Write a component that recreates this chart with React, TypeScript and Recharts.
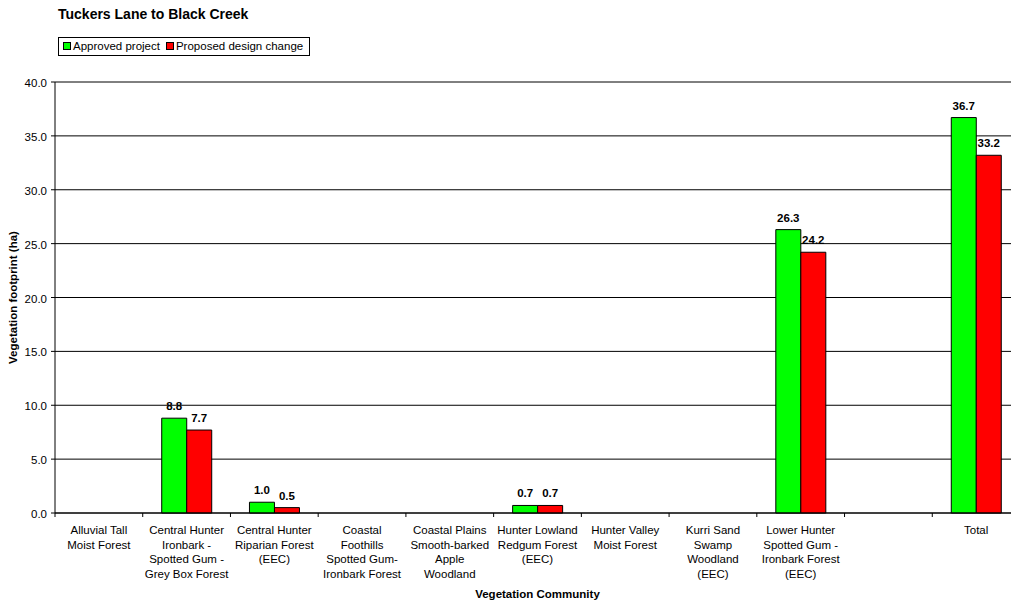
import React from 'react';
import { BarChart, Bar, XAxis, YAxis, CartesianGrid, Legend, LabelList } from 'recharts';

// Vegetation communities (line breaks mark how each axis label wraps)
const categories: string[] = [
  'Alluvial Tall\nMoist Forest',
  'Central Hunter\nIronbark -\nSpotted Gum -\nGrey Box Forest',
  'Central Hunter\nRiparian Forest\n(EEC)',
  'Coastal\nFoothills\nSpotted Gum-\nIronbark Forest',
  'Coastal Plains\nSmooth-barked\nApple\nWoodland',
  'Hunter Lowland\nRedgum Forest\n(EEC)',
  'Hunter Valley\nMoist Forest',
  'Kurri Sand\nSwamp\nWoodland\n(EEC)',
  'Lower Hunter\nSpotted Gum -\nIronbark Forest\n(EEC)',
  ' ',
  'Total',
];

// Vegetation footprint (ha); null where a community is not affected
const approvedProject: (number | null)[] = [null, 8.8, 1.0, null, null, 0.7, null, null, 26.3, null, 36.7];
const proposedDesignChange: (number | null)[] = [null, 7.7, 0.5, null, null, 0.7, null, null, 24.2, null, 33.2];

const yTicks: number[] = [0, 5, 10, 15, 20, 25, 30, 35, 40];

const data = categories.map((name, i) => ({
  name,
  approved: approvedProject[i],
  proposed: proposedDesignChange[i],
}));

const FONT = '"Liberation Sans", Arial, Helvetica, sans-serif';
const CHART_W = 1030;
const CHART_H = 604;
const MARGIN = { top: 82, right: 10, bottom: 31, left: 0 };
const Y_AXIS_W = 55;
const X_AXIS_H = 60;
const PLOT_W = CHART_W - MARGIN.left - MARGIN.right - Y_AXIS_W;
const HALF_BAND = PLOT_W / categories.length / 2;

const CategoryTick = (props: any) => {
  const { x, y, payload, index } = props;
  const lines = String(payload.value).split('\n');
  const isLast = index === categories.length - 1;
  return (
    <g>
      <line x1={x - HALF_BAND} y1={y - 4} x2={x - HALF_BAND} y2={y} stroke="#000" />
      {isLast && <line x1={x + HALF_BAND} y1={y - 4} x2={x + HALF_BAND} y2={y} stroke="#000" />}
      <text x={x} y={y + 17.3} textAnchor="middle" fontFamily={FONT} fontSize={11.5} fill="#000">
        {lines.map((l, i) => (
          <tspan key={i} x={x} dy={i === 0 ? 0 : 14.4}>
            {l}
          </tspan>
        ))}
      </text>
    </g>
  );
};

const ValueLabel = (props: any) => {
  const { x, y, width, value } = props;
  if (value === null || value === undefined) return null;
  return (
    <text
      x={Number(x) + Number(width) / 2}
      y={Number(y) - 8}
      textAnchor="middle"
      fontFamily={FONT}
      fontSize={11.5}
      fontWeight="bold"
      fill="#000"
    >
      {Number(value).toFixed(1)}
    </text>
  );
};

const LegendBox = (props: any) => {
  const { payload } = props;
  return (
    <div
      style={{
        display: 'inline-flex',
        alignItems: 'center',
        border: '1px solid #000',
        height: 17,
        lineHeight: '17px',
        padding: '0 6px 0 4px',
        fontFamily: FONT,
        fontSize: 11.5,
        color: '#000',
        background: '#fff',
        whiteSpace: 'nowrap',
      }}
    >
      {(payload || []).map((entry: any, i: number) => (
        <span key={i} style={{ display: 'inline-flex', alignItems: 'center', marginLeft: i === 0 ? 0 : 6 }}>
          <span
            style={{
              display: 'inline-block',
              width: 6,
              height: 6,
              border: '1px solid #000',
              background: entry.color,
              marginRight: 2,
            }}
          />
          {entry.value}
        </span>
      ))}
    </div>
  );
};

const YTitle = (props: any) => {
  const vb = props.viewBox || {};
  const cy = vb.y + vb.height / 2;
  return (
    <text
      x={13}
      y={cy}
      transform={`rotate(-90, 13, ${cy})`}
      textAnchor="middle"
      dominantBaseline="central"
      fontFamily={FONT}
      fontSize={11.5}
      fontWeight="bold"
      fill="#000"
    >
      Vegetation footprint (ha)
    </text>
  );
};

const XTitle = (props: any) => {
  const vb = props.viewBox || {};
  const cx = vb.x + vb.width / 2;
  return (
    <text x={cx} y={598} textAnchor="middle" fontFamily={FONT} fontSize={11.5} fontWeight="bold" fill="#000">
      Vegetation Community
    </text>
  );
};

export default function App() {
  return (
    <div
      style={{
        position: 'absolute',
        left: 0,
        top: 0,
        width: 1011,
        height: 604,
        overflow: 'hidden',
        background: '#fff',
      }}
    >
      <div
        style={{
          position: 'absolute',
          left: 58,
          top: 6,
          fontFamily: FONT,
          fontSize: 14,
          lineHeight: '16px',
          fontWeight: 'bold',
          color: '#000',
          zIndex: 2,
        }}
      >
        Tuckers Lane to Black Creek
      </div>
      <BarChart width={CHART_W} height={CHART_H} data={data} margin={MARGIN} barGap={0} barSize={25}>
        <CartesianGrid vertical={false} stroke="#000" strokeDasharray="" />
        <XAxis
          dataKey="name"
          type="category"
          interval={0}
          height={X_AXIS_H}
          tickLine={false}
          tickSize={4}
          tickMargin={0}
          axisLine={{ stroke: '#000' }}
          tick={<CategoryTick />}
          label={<XTitle />}
        />
        <YAxis
          width={Y_AXIS_W}
          domain={[0, 40]}
          ticks={yTicks}
          interval={0}
          tickFormatter={(v: number) => v.toFixed(1)}
          tickSize={4}
          tickMargin={4}
          tickLine={{ stroke: '#000' }}
          axisLine={{ stroke: '#000' }}
          tick={{ fill: '#000', fontFamily: FONT, fontSize: 11.5, dy: 1 }}
          label={<YTitle />}
        />
        <Legend
          verticalAlign="middle"
          align="center"
          content={<LegendBox />}
          wrapperStyle={{ left: 58, top: 36, width: 'auto', height: 'auto' }}
        />
        <Bar dataKey="approved" name="Approved project" fill="#00FF00" stroke="#000" strokeWidth={1} isAnimationActive={false}>
          <LabelList dataKey="approved" content={<ValueLabel />} />
        </Bar>
        <Bar dataKey="proposed" name="Proposed design change" fill="#FF0000" stroke="#000" strokeWidth={1} isAnimationActive={false}>
          <LabelList dataKey="proposed" content={<ValueLabel />} />
        </Bar>
      </BarChart>
    </div>
  );
}
